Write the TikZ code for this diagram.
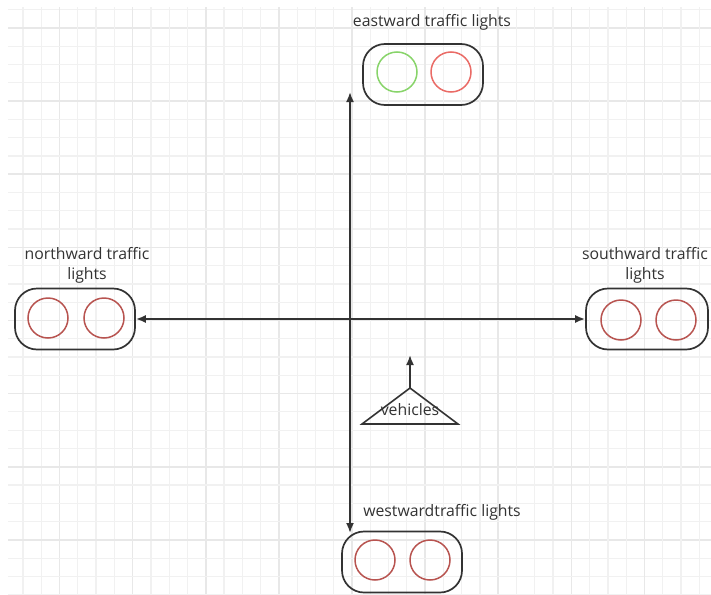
\documentclass[tikz,border=0pt]{standalone}
\usepackage{fontspec}
\setmainfont{Open Sans}
\usetikzlibrary{arrows.meta}
\definecolor{gridminor}{HTML}{F1F1F1}
\definecolor{gridmajor}{HTML}{E8E8E8}
\definecolor{ink}{HTML}{333333}
\definecolor{lampred}{HTML}{B85450}
\definecolor{lamphot}{HTML}{EA6B66}
\definecolor{lampgreen}{HTML}{88D46A}
\tikzset{
  housing/.style={draw=ink, line width=1.7pt, rounded corners=22pt,
    minimum width=120pt, minimum height=61pt, inner sep=0pt},
  lamp/.style={circle, draw=#1, line width=1.5pt, minimum size=40pt, inner sep=0pt},
  caption/.style={text=ink, font=\fontsize{15.8}{20}\selectfont, align=center, inner sep=0pt},
  road/.style={draw=ink, line width=1.8pt, {Latex[length=10pt,width=8pt]}-{Latex[length=10pt,width=8pt]}},
  heading/.style={draw=ink, line width=1.8pt, -{Latex[length=10pt,width=8pt]}},
}
\begin{document}
\begin{tikzpicture}[x=1pt, y=-1pt]
  \useasboundingbox (0,0) rectangle (711,594);
  \fill[white] (0,0) rectangle (711,594);
  % background grid, a heavier line every fourth step
  \begin{scope}
    \clip (8,8) rectangle (711,594);
    \foreach \k in {-3,...,36} {
      \pgfmathsetmacro{\gx}{59.5+18.28*\k}
      \pgfmathsetmacro{\gy}{28+18.28*\k}
      \pgfmathtruncatemacro{\major}{mod(\k+40,4)==0}
      \ifnum\major=1
        \draw[gridmajor, line width=1.6pt] (\gx,0) -- (\gx,600);
        \draw[gridmajor, line width=1.6pt] (0,\gy) -- (720,\gy);
      \else
        \draw[gridminor, line width=1.2pt] (\gx,0) -- (\gx,600);
        \draw[gridminor, line width=1.2pt] (0,\gy) -- (720,\gy);
      \fi
    }
  \end{scope}

  % traffic light housings
  \node[housing] (east)  at (423,74.5) {};
  \node[housing] (north) at (75,319) {};
  \node[housing, minimum width=122pt] (south) at (647,319) {};
  \node[housing] (west)  at (402,562) {};

  % lamps
  \node[lamp=lampgreen] (e1) at (397,72) {};
  \node[lamp=lamphot]   (e2) at (451,72) {};
  \node[lamp=lampred]   (n1) at (48,318) {};
  \node[lamp=lampred]   (n2) at (104,318) {};
  \node[lamp=lampred]   (s1) at (621,320) {};
  \node[lamp=lampred]   (s2) at (676,320) {};
  \node[lamp=lampred]   (w1) at (375,560) {};
  \node[lamp=lampred]   (w2) at (430,560) {};

  % captions
  \node[caption] (eastcap)  at (432,22)  {eastward traffic lights};
  \node[caption] (northcap) at (87,265)  {northward traffic\\lights};
  \node[caption] (southcap) at (645,265) {southward traffic\\lights};
  \node[caption] (westcap)  at (442,512) {westwardtraffic lights};

  % roads
  \coordinate (roadtop) at (350,92);
  \coordinate (roadbot) at (350,533);
  \draw[road] (roadtop) -- (roadbot);
  \draw[road] (north) -- (south);

  % vehicle marker
  \coordinate (apex) at (410,388);
  \coordinate (baseL) at (362,424);
  \coordinate (baseR) at (458,424);
  \coordinate (ahead) at (410,355);
  \draw[ink, line width=1.6pt, line join=miter] (apex) -- (baseR) -- (baseL) -- cycle;
  \node[caption] (veh) at (410,410) {vehicles};
  \draw[heading] (apex) -- (ahead);
\end{tikzpicture}
\end{document}
